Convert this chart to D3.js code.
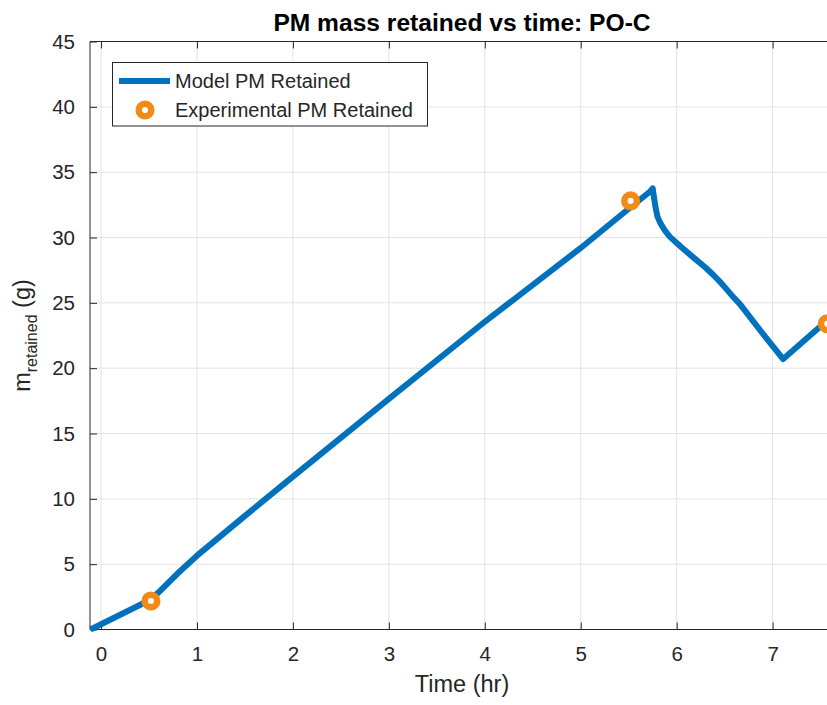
<!DOCTYPE html>
<html>
<head>
<meta charset="utf-8">
<script src="https://cdn.jsdelivr.net/npm/d3@7"></script>
<style>
  html, body { margin: 0; padding: 0; background: #fff; }
  svg { display: block; font-family: "Liberation Sans", Arial, Helvetica, sans-serif; }
</style>
</head>
<body>
<svg id="chart" width="827" height="705"></svg>
<script>
// ---- data ----
const modelTime = [-0.11, 0.52, 0.6, 0.8, 1.0, 1.5, 2.0, 3.0, 4.0, 5.0, 5.5, 5.72, 5.75, 5.765, 5.78, 5.80, 5.83, 5.88, 5.93, 6.05, 6.17, 6.30, 6.38, 6.46, 6.53, 6.59, 6.66, 6.87, 7.11, 7.53, 7.57];
const modelMass = [0.0, 2.3, 2.85, 4.3, 5.65, 8.7, 11.7, 17.65, 23.55, 29.2, 32.2, 33.5, 33.76, 33.0, 32.3, 31.6, 31.1, 30.5, 30.05, 29.25, 28.5, 27.7, 27.15, 26.55, 25.95, 25.45, 24.9, 22.9, 20.7, 23.4, 23.65];
const expTime = [0.52, 5.52, 7.57];
const expMass = [2.18, 32.8, 23.4];
const xTicks = [0, 1, 2, 3, 4, 5, 6, 7];
const yTicks = [0, 5, 10, 15, 20, 25, 30, 35, 40, 45];
const xLimits = [-0.115, 7.64];
const yLimits = [0, 45];
const titleText = "PM mass retained vs time: PO-C";
const xLabelText = "Time (hr)";
const seriesNames = ["Model PM Retained", "Experimental PM Retained"];

(function () {
// ---- layout ----
const svg = d3.select("#chart");
const pL = 90, pR = 834, pT = 41.5, pB = 629.5;
const blue = "#0072BD", orange = "#F28A17", axisCol = "#262626", gridCol = "#e3e3e3";

const x = d3.scaleLinear().domain(xLimits).range([pL, pR]);
const y = d3.scaleLinear().domain(yLimits).range([pB, pT]);

// grid
const grid = svg.append("g");
grid.selectAll("line.vx").data(xTicks).join("line")
  .attr("x1", d => x(d)).attr("x2", d => x(d)).attr("y1", pT).attr("y2", pB)
  .attr("stroke", gridCol).attr("stroke-width", 1);
grid.selectAll("line.hy").data(yTicks).join("line")
  .attr("x1", pL).attr("x2", pR).attr("y1", d => y(d)).attr("y2", d => y(d))
  .attr("stroke", gridCol).attr("stroke-width", 1);

// axes (ticks inward)
const tickLen = 7;
const xAxisB = d3.axisBottom(x).tickValues(xTicks).tickSize(-tickLen).tickPadding(tickLen + 10).tickFormat(d3.format("d"));
const xAxisT = d3.axisTop(x).tickValues(xTicks).tickSize(-tickLen).tickFormat("");
const yAxisL = d3.axisLeft(y).tickValues(yTicks).tickSize(-tickLen).tickPadding(tickLen + 8).tickFormat(d3.format("d"));
const yAxisR = d3.axisRight(y).tickValues(yTicks).tickSize(-tickLen).tickFormat("");

function styleAxis(g) {
  g.select(".domain").attr("stroke", axisCol).attr("stroke-width", 1);
  g.selectAll(".tick line").attr("stroke", axisCol).attr("stroke-width", 1);
  g.selectAll(".tick text").attr("fill", axisCol).attr("font-size", 20.5)
    .attr("font-family", "'Liberation Sans', Arial, Helvetica, sans-serif");
}
svg.append("g").attr("transform", `translate(0,${pB})`).call(xAxisB).call(styleAxis)
  .call(g => g.select(".domain").attr("d", `M${pL},0H${pR}`));
svg.append("g").attr("transform", `translate(0,${pT})`).call(xAxisT).call(styleAxis)
  .call(g => g.select(".domain").attr("d", `M${pL},0H${pR}`));
svg.append("g").attr("transform", `translate(${pL},0)`).call(yAxisL).call(styleAxis)
  .call(g => g.select(".domain").attr("d", `M0,${pB}V${pT}`));
svg.append("g").attr("transform", `translate(${pR},0)`).call(yAxisR).call(styleAxis)
  .call(g => g.select(".domain").attr("d", `M0,${pB}V${pT}`));

// model line
const modelData = modelTime.map((t, i) => ({t, m: modelMass[i]}));
const line = d3.line().x(d => x(d.t)).y(d => y(d.m));
svg.append("path").datum(modelData)
  .attr("d", line).attr("fill", "none").attr("stroke", blue)
  .attr("stroke-width", 6).attr("stroke-linejoin", "round").attr("stroke-linecap", "butt");

// experimental markers
const expData = expTime.map((t, i) => ({t, m: expMass[i]}));
svg.append("g").selectAll("circle").data(expData).join("circle")
  .attr("cx", d => x(d.t)).attr("cy", d => y(d.m)).attr("r", 6.3)
  .attr("fill", "#fff").attr("stroke", orange).attr("stroke-width", 6.5);

// title
svg.append("text").attr("x", (pL + pR) / 2).attr("y", 31)
  .attr("text-anchor", "middle").attr("font-size", 24.6).attr("font-weight", "bold")
  .attr("fill", "#000").text(titleText);

// x label
svg.append("text").attr("x", (pL + pR) / 2).attr("y", 692)
  .attr("text-anchor", "middle").attr("font-size", 23.5).attr("fill", axisCol).text(xLabelText);

// y label with subscript
const yl = svg.append("text").attr("transform", `translate(30,${(pT + pB) / 2}) rotate(-90)`)
  .attr("text-anchor", "middle").attr("font-size", 23.5).attr("fill", axisCol);
yl.append("tspan").text("m");
yl.append("tspan").attr("font-size", 16).attr("dy", 7).text("retained");
yl.append("tspan").attr("dy", -7).text(" (g)");

// legend
const lg = svg.append("g");
lg.append("rect").attr("x", 112.5).attr("y", 62.5).attr("width", 315).attr("height", 63.5)
  .attr("fill", "#fff").attr("stroke", axisCol).attr("stroke-width", 1);
lg.append("line").attr("x1", 119).attr("x2", 170).attr("y1", 81).attr("y2", 81)
  .attr("stroke", blue).attr("stroke-width", 6);
lg.append("circle").attr("cx", 145).attr("cy", 110).attr("r", 6.3)
  .attr("fill", "#fff").attr("stroke", orange).attr("stroke-width", 6.5);
lg.selectAll("text.lbl").data(seriesNames).join("text")
  .attr("x", 175).attr("y", (d, i) => 81 + i * 29).attr("dy", "0.35em")
  .attr("font-size", 20).attr("fill", axisCol).text(d => d);
})();
</script>
</body>
</html>
